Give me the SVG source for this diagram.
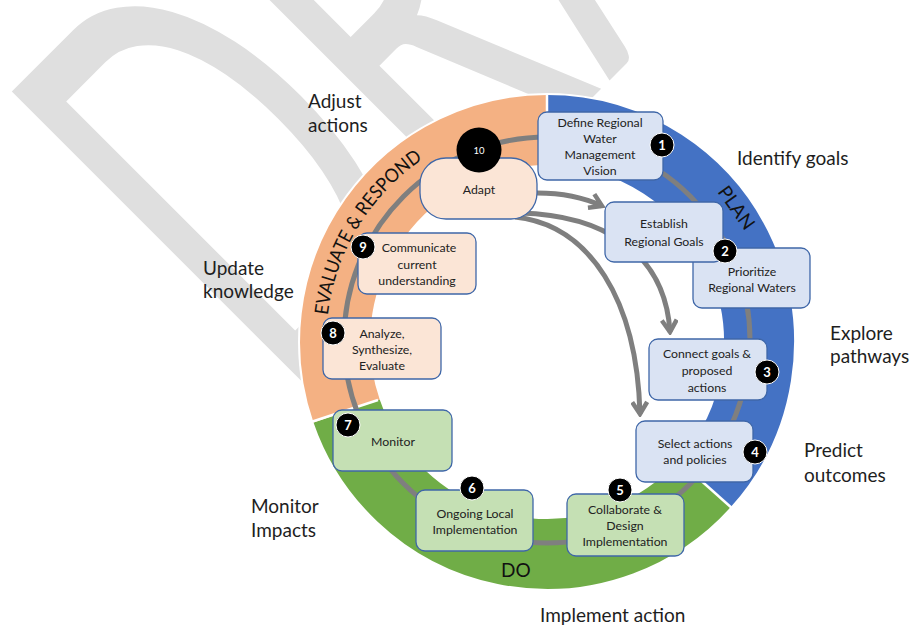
<svg xmlns="http://www.w3.org/2000/svg" width="910" height="627" viewBox="0 0 910 627">
<defs>
<style>
.wm{font-family:Lato,"Open Sans",sans-serif;fill:#dfdfdf}
.lbl{font-family:Lato,"Open Sans",sans-serif;font-size:19px;fill:#1e1e1e}
.bt{font-family:Lato,"Open Sans",sans-serif;font-size:12.3px;fill:#222;text-anchor:middle}
.bn{font-family:Lato,"Open Sans",sans-serif;font-size:13px;fill:#fff;text-anchor:middle;font-weight:bold}
.ring{fill:none;stroke-width:70}
.sep{stroke:#fff;stroke-width:2.5}
.bx{stroke:#3f67a8;stroke-width:1.3}
.pb{fill:#dae3f3}
.ob{fill:#fbe5d6}
.gb{fill:#c5e0b4}
.badge{fill:#000;stroke:#fff;stroke-width:1}
.arr{fill:none;stroke:#7f7f7f;stroke-width:5}
.seg{font-family:Lato,"Open Sans",sans-serif;font-size:19px;fill:#111}
</style>
<marker id="ah" viewBox="0 0 18 18" refX="15" refY="9" markerWidth="18" markerHeight="18" orient="auto" markerUnits="userSpaceOnUse">
<path d="M3,1.5 L15,9 L3,16.5" fill="none" stroke="#7f7f7f" stroke-width="4.5" stroke-linejoin="miter"/>
</marker>
<path id="evalArc" d="M 327.7,315.1 A 221 221 0 0 1 423.4,158.8"/>
</defs>

<g id="watermark">
<text class="wm" transform="translate(300,390) rotate(-45) scale(0.56,1)" font-size="579" x="-40 401 780">DRAFT</text>
</g>

<g id="ring">
<circle cx="547" cy="342" r="249" fill="#fff"/>
<path class="ring" stroke="#4472c4" d="M 547,130 A 212 212 0 0 1 704.5,483.9"/>
<path class="ring" stroke="#70ad47" d="M 704.5,483.9 A 212 212 0 0 1 346.6,411.0"/>
<path class="ring" stroke="#f4b183" d="M 346.6,411.0 A 212 212 0 0 1 547,130"/>
<line class="sep" x1="547" y1="94" x2="547" y2="166"/>
<line class="sep" x1="678" y1="460" x2="734" y2="510"/>
<line class="sep" x1="378" y1="400" x2="311" y2="422"/>
<text class="seg" transform="translate(736,208) rotate(54.5)" text-anchor="middle" y="6">PLAN</text>
<text class="seg" x="501" y="577">DO</text>
<text class="seg"><textPath href="#evalArc" textLength="188" lengthAdjust="spacingAndGlyphs">EVALUATE &amp; RESPOND</textPath></text>
</g>

<g id="connectors">
<circle cx="547" cy="340" r="203" fill="none" stroke="#7f7f7f" stroke-width="5"/>
<path class="arr" marker-end="url(#ah)" d="M 537,193 C 565,193 585,198 602,206"/>
<path class="arr" marker-end="url(#ah)" d="M 520,213 C 600,215 665,250 670,332"/>
<path class="arr" marker-end="url(#ah)" d="M 515,217 C 590,225 637,300 640,414"/>
</g>

<g id="labels">
<text class="lbl" x="308" y="108">Adjust</text>
<text class="lbl" x="308" y="132">actions</text>
<text class="lbl" x="737" y="165">Identify goals</text>
<text class="lbl" x="830" y="340">Explore</text>
<text class="lbl" x="830" y="363">pathways</text>
<text class="lbl" x="804" y="457">Predict</text>
<text class="lbl" x="804" y="482">outcomes</text>
<text class="lbl" x="540" y="622">Implement action</text>
<text class="lbl" x="251" y="513">Monitor</text>
<text class="lbl" x="251" y="537">Impacts</text>
<text class="lbl" x="203" y="275">Update</text>
<text class="lbl" x="203" y="298">knowledge</text>
</g>

<g id="node1">
<rect class="bx pb" x="538" y="112" width="125" height="68" rx="9"/>
<text class="bt" x="600" y="126.5">Define Regional</text>
<text class="bt" x="600" y="142.8">Water</text>
<text class="bt" x="600" y="159.1">Management</text>
<text class="bt" x="600" y="175.4">Vision</text>
<circle class="badge" cx="662" cy="145" r="12"/>
<text class="bn" x="662" y="149.5">1</text>
</g>

<g id="node2b">
<rect class="bx pb" x="693" y="248" width="117" height="60" rx="9"/>
<text class="bt" x="752" y="275.5">Prioritize</text>
<text class="bt" x="752" y="291.5">Regional Waters</text>
</g>

<g id="node2">
<rect class="bx pb" x="605" y="202" width="118" height="60" rx="9"/>
<text class="bt" x="664" y="227.5">Establish</text>
<text class="bt" x="664" y="245.5">Regional Goals</text>
<circle class="badge" cx="725" cy="251" r="12"/>
<text class="bn" x="725" y="255.5">2</text>
</g>

<g id="node3">
<rect class="bx pb" x="649" y="339" width="118" height="61" rx="9"/>
<text class="bt" x="707" y="357.5">Connect goals &amp;</text>
<text class="bt" x="707" y="374.5">proposed</text>
<text class="bt" x="707" y="391.5">actions</text>
<circle class="badge" cx="767" cy="372" r="12"/>
<text class="bn" x="767" y="376.5">3</text>
</g>

<g id="node4">
<rect class="bx pb" x="636" y="421" width="117" height="61" rx="9"/>
<text class="bt" x="695" y="447.5">Select actions</text>
<text class="bt" x="695" y="463.5">and policies</text>
<circle class="badge" cx="755" cy="452" r="12"/>
<text class="bn" x="755" y="456.5">4</text>
</g>

<g id="node5">
<rect class="bx gb" x="567" y="494" width="117" height="62" rx="9"/>
<text class="bt" x="625" y="513.5">Collaborate &amp;</text>
<text class="bt" x="625" y="529.5">Design</text>
<text class="bt" x="625" y="545.5">Implementation</text>
<circle class="badge" cx="620" cy="490" r="12"/>
<text class="bn" x="620" y="494.5">5</text>
</g>

<g id="node6">
<rect class="bx gb" x="416" y="490" width="117" height="61" rx="9"/>
<text class="bt" x="475" y="517.5">Ongoing Local</text>
<text class="bt" x="475" y="533.5">Implementation</text>
<circle class="badge" cx="472" cy="488" r="12"/>
<text class="bn" x="472" y="492.5">6</text>
</g>

<g id="node7">
<rect class="bx gb" x="333" y="410" width="119" height="61" rx="9"/>
<text class="bt" x="393" y="445.5">Monitor</text>
<circle class="badge" cx="348" cy="425" r="12"/>
<text class="bn" x="348" y="429.5">7</text>
</g>

<g id="node8">
<rect class="bx ob" x="323" y="318" width="118" height="61" rx="9"/>
<text class="bt" x="382" y="337.5">Analyze,</text>
<text class="bt" x="382" y="353.5">Synthesize,</text>
<text class="bt" x="382" y="369.5">Evaluate</text>
<circle class="badge" cx="333" cy="333" r="12"/>
<text class="bn" x="333" y="337.5">8</text>
</g>

<g id="node9">
<rect class="bx ob" x="358" y="233" width="118" height="61" rx="9"/>
<text class="bt" x="419" y="251.5">Communicate</text>
<text class="bt" x="417" y="268.5">current</text>
<text class="bt" x="417" y="285">understanding</text>
<circle class="badge" cx="363" cy="247" r="12"/>
<text class="bn" x="363" y="251.5">9</text>
</g>

<g id="node10">
<rect class="bx ob" x="420" y="158" width="117" height="61" rx="26"/>
<text class="bt" x="479" y="193.5">Adapt</text>
<circle cx="479" cy="150" r="22.5" fill="#000"/>
<text class="bn" x="479" y="153.5" style="font-size:9.5px;font-weight:normal">10</text>
</g>
</svg>
